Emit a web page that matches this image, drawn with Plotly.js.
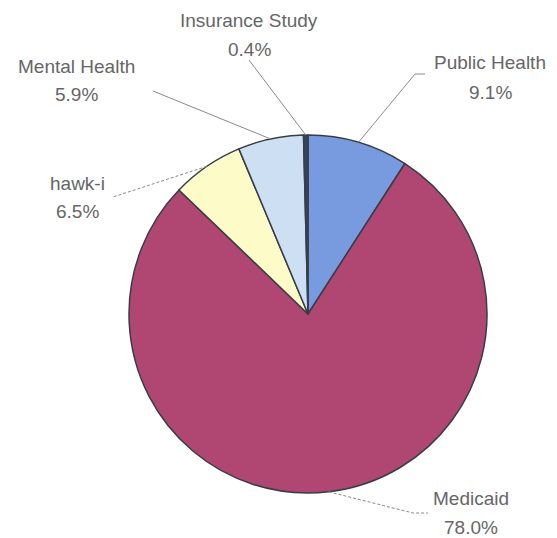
<!DOCTYPE html>
<html><head><meta charset="utf-8">
<script src="https://cdn.plot.ly/plotly-3.0.1.min.js"></script>
<style>html,body{margin:0;padding:0;background:#fff;}#chart{width:557px;height:538px;}</style>
</head><body><div id="chart"></div>
<script>
// ---- data ----
const categories = ["Public Health", "Medicaid", "hawk-i", "Mental Health", "Insurance Study"];
const shares = [9.1, 78.0, 6.5, 5.9, 0.4];
const sliceColors = ["#789be0", "#b04672", "#fdfbc8", "#cde0f3", "#34445a"];

// ---- layout constants (pixels) ----
const W = 557, H = 538, CX = 308, CY = 314, R = 179;
const labelPos = [[490, 63], [471, 498], [77, 183], [76, 66], [249, 21]];
const leaderEnds = [[[415, 74], [425, 74]], [[413, 513], [428, 513]], [[113, 197]], [[153, 91]], [[249, 60]]];
const leaderDash = ["solid", "dash", "dash", "solid", "solid"];
const LINE_GAP = 29;

const px = x => x / W;
const py = y => 1 - y / H;

const total = shares.reduce((a, b) => a + b, 0);
let cum = 0;
const shapes = [];
const annotations = [];
const font = {family: "Liberation Sans, Arial, sans-serif", size: 19, color: "#666"};
shares.forEach((v, i) => {
  const mid = (cum + v / 2) / total * 2 * Math.PI;
  cum += v;
  const sx = CX + R * Math.sin(mid), sy = CY - R * Math.cos(mid);
  let path = "M " + px(sx) + " " + py(sy);
  leaderEnds[i].forEach(p => { path += " L " + px(p[0]) + " " + py(p[1]); });
  shapes.push({type: "path", xref: "paper", yref: "paper", path: path,
    line: {color: "#8a8a8a", width: 1, dash: leaderDash[i] === "dash" ? "3px,2px" : "solid"}});
  const [lx, ly] = labelPos[i];
  annotations.push({xref: "paper", yref: "paper", x: px(lx), y: py(ly), xanchor: "center", yanchor: "middle",
    text: categories[i], showarrow: false, font: font});
  annotations.push({xref: "paper", yref: "paper", x: px(lx), y: py(ly + LINE_GAP), xanchor: "center", yanchor: "middle",
    text: v.toFixed(1) + "%", showarrow: false, font: font});
});

const trace = {
  type: "pie",
  labels: categories,
  values: shares,
  sort: false,
  direction: "clockwise",
  rotation: 0,
  textinfo: "none",
  hoverinfo: "label+percent",
  showlegend: false,
  marker: {colors: sliceColors, line: {color: "#3a3d48", width: 1.5}},
  domain: {x: [px(CX - R), px(CX + R)], y: [py(CY + R), py(CY - R)]}
};

Plotly.newPlot("chart", [trace], {
  width: W, height: H,
  margin: {l: 0, r: 0, t: 0, b: 0},
  paper_bgcolor: "#fff",
  showlegend: false,
  shapes: shapes,
  annotations: annotations
}, {staticPlot: true});
</script>
</body></html>
